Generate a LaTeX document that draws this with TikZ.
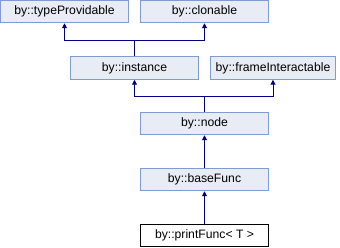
\documentclass[tikz,border=0pt]{standalone}
\usepackage{fontspec}
\setmainfont{Liberation Sans}
\usetikzlibrary{arrows.meta}
\definecolor{boxfill}{HTML}{E8ECF5}
\definecolor{boxline}{HTML}{7F9BD0}
\definecolor{edgecol}{HTML}{000080}
\begin{document}
\begin{tikzpicture}[x=1pt,y=1pt,
  cls/.style={draw=boxline,fill=boxfill,line width=1pt,minimum width=128pt,minimum height=22.5pt,inner sep=0pt,font=\fontsize{12.2}{14}\selectfont},
  cur/.style={cls,draw=black,fill=white},
  edge/.style={draw=edgecol,line width=1pt},
  arr/.style={edge,-{Triangle[length=5pt,width=5pt]}}]
\useasboundingbox (0,0) rectangle (340,248);
\node[cls] (tp) at (64.5,236.5) {by::typeProvidable};
\node[cls] (cl) at (204.5,236.5) {by::clonable};
\node[cls] (in) at (134.5,180) {by::instance};
\node[cls,minimum width=125pt] (fi) at (273,180) {by::frameInteractable};
\node[cls] (no) at (204.5,124.5) {by::node};
\node[cls] (bf) at (204.5,68.5) {by::baseFunc};
\node[cur] (pf) at (204.5,12.5) {by::printFunc< T >};
\coordinate (j1) at (134.5,207.5);
\coordinate (j2) at (204.5,151.5);
\draw[edge] (in.north) -- (j1);
\draw[arr] (j1) -| (tp.south);
\draw[arr] (j1) -| (cl.south);
\draw[edge] (no.north) -- (j2);
\draw[arr] (j2) -| (in.south);
\draw[arr] (j2) -| (fi.south);
\draw[arr] (bf.north) -- (no.south);
\draw[arr] (pf.north) -- (bf.south);
\end{tikzpicture}
\end{document}
